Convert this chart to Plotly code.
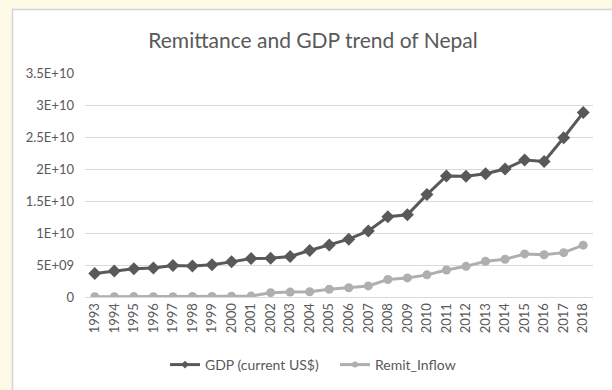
import plotly.graph_objects as go

# Nepal: GDP and personal remittance inflows, current US$
years = [str(y) for y in range(1993, 2019)]
gdp = [3.66e9, 4.07e9, 4.40e9, 4.52e9, 4.91e9, 4.86e9, 5.03e9, 5.49e9, 6.01e9,
       6.05e9, 6.33e9, 7.27e9, 8.13e9, 9.04e9, 10.33e9, 12.55e9, 12.85e9,
       16.00e9, 18.91e9, 18.85e9, 19.27e9, 20.00e9, 21.41e9, 21.19e9,
       24.88e9, 28.81e9]
remit = [0.058e9, 0.050e9, 0.060e9, 0.044e9, 0.047e9, 0.080e9, 0.090e9,
         0.111e9, 0.147e9, 0.678e9, 0.771e9, 0.823e9, 1.21e9, 1.45e9, 1.73e9,
         2.73e9, 2.98e9, 3.46e9, 4.22e9, 4.79e9, 5.59e9, 5.89e9, 6.73e9,
         6.61e9, 6.93e9, 8.10e9]
series_names = ["GDP (current US$)", "Remit_Inflow"]
y_tickvals = [0, 5e9, 1e10, 1.5e10, 2e10, 2.5e10, 3e10, 3.5e10]
y_ticktext = ["0", "5E+09", "1E+10", "1.5E+10", "2E+10", "2.5E+10", "3E+10", "3.5E+10"]

FONT = "Lato"
TXT = "#595959"
GRID = "#d9d9d9"
DARK = "#595959"
LIGHT = "#afafaf"

styles = [
    dict(color=DARK, symbol="diamond", size=10),
    dict(color=LIGHT, symbol="circle", size=9),
]

fig = go.Figure()
for name, values, st in zip(series_names, [gdp, remit], styles):
    fig.add_trace(go.Scatter(
        x=years, y=values, name=name, mode="lines+markers", showlegend=False,
        legendgroup=name,
        line=dict(color=st["color"], width=3),
        marker=dict(symbol=st["symbol"], size=st["size"], color=st["color"]),
    ))
# legend keys drawn with small markers, as in a spreadsheet legend
for name, st in zip(series_names, styles):
    fig.add_trace(go.Scatter(
        x=[None], y=[None], name=name, mode="lines+markers", legendgroup=name,
        line=dict(color=st["color"], width=3),
        marker=dict(symbol=st["symbol"], size=6, color=st["color"]),
    ))

L, R, T, B = 85, 19, 73, 93
W, H = 612, 390
pw, ph = W - L - R, H - T - B

def px_x(p):
    return (p - L) / pw

def px_y(p):
    return (H - B - p) / ph

# white chart panel on the cream page
fig.add_shape(type="rect", xref="paper", yref="paper",
              x0=px_x(12.5), x1=px_x(630), y0=px_y(410), y1=px_y(9.5),
              fillcolor="white", line=dict(color="#d4d4d4", width=1.5),
              layer="below")

fig.update_layout(
    width=W, height=H,
    margin=dict(l=L, r=R, t=T, b=B, autoexpand=False),
    paper_bgcolor="#fffae6",
    plot_bgcolor="white",
    font=dict(family=FONT, color=TXT, size=13),
    title=dict(text="Remittance and GDP trend of Nepal", xref="container",
               yref="container", x=313 / W, y=1 - 41 / H,
               xanchor="center", yanchor="middle",
               font=dict(family=FONT, size=21, color=TXT)),
    showlegend=True,
    legend=dict(orientation="h", x=px_x(165), y=px_y(365),
                xanchor="left", yanchor="middle",
                font=dict(family=FONT, size=14, color=TXT),
                bgcolor="rgba(0,0,0,0)", itemwidth=30,
                entrywidth=125, entrywidthmode="pixels"),
    xaxis=dict(type="category", range=[-0.5, len(years) - 0.5],
               tickangle=-90, showgrid=False,
               showline=True, linecolor=GRID, linewidth=1, ticks="",
               tickfont=dict(family=FONT, size=13, color=TXT),
               zeroline=False, automargin=False),
    yaxis=dict(range=[0, 3.5e10], tickvals=y_tickvals, ticktext=y_ticktext,
               showgrid=True, gridcolor=GRID, gridwidth=1, zeroline=False,
               showline=False, ticks="", ticklabelstandoff=10, automargin=False,
               tickfont=dict(family=FONT, size=13, color=TXT)),
)

fig.write_html("out.html")
